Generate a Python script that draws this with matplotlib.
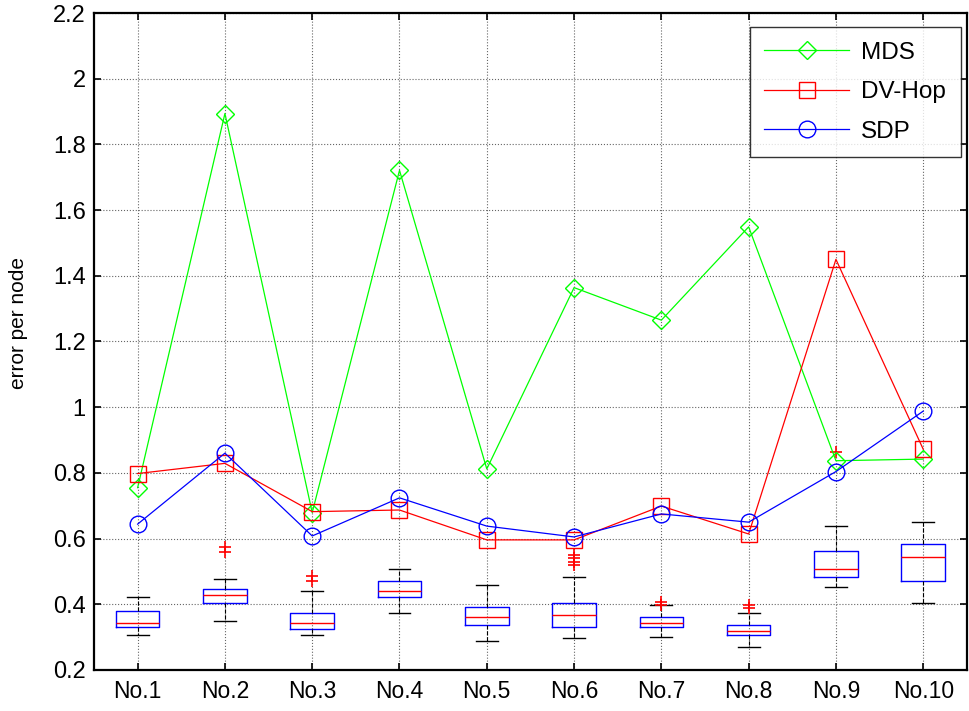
import matplotlib
matplotlib.use("Agg")
import matplotlib.pyplot as plt

plt.rcParams['font.family'] = ['Liberation Sans', 'DejaVu Sans']

categories = ['No.1', 'No.2', 'No.3', 'No.4', 'No.5', 'No.6', 'No.7', 'No.8', 'No.9', 'No.10']

mds = [0.755, 1.894, 0.679, 1.721, 0.812, 1.364, 1.265, 1.549, 0.837, 0.842]
dvhop = [0.798, 0.829, 0.682, 0.687, 0.596, 0.596, 0.699, 0.614, 1.450, 0.872]
sdp = [0.644, 0.860, 0.608, 0.724, 0.638, 0.605, 0.675, 0.650, 0.804, 0.988]

box_whislo = [0.306, 0.349, 0.306, 0.373, 0.287, 0.298, 0.300, 0.269, 0.453, 0.404]
box_q1 = [0.330, 0.404, 0.324, 0.421, 0.336, 0.330, 0.331, 0.306, 0.484, 0.472]
box_med = [0.343, 0.429, 0.343, 0.441, 0.361, 0.366, 0.342, 0.319, 0.508, 0.545]
box_q3 = [0.380, 0.447, 0.373, 0.472, 0.391, 0.404, 0.360, 0.336, 0.563, 0.583]
box_whishi = [0.423, 0.477, 0.440, 0.507, 0.460, 0.484, 0.398, 0.372, 0.637, 0.650]
box_fliers = [[], [0.575, 0.560], [0.485, 0.472], [], [], [0.550, 0.541, 0.530, 0.520],
              [0.408, 0.398], [0.398, 0.390], [0.864], []]

yticks = [0.2, 0.4, 0.6, 0.8, 1.0, 1.2, 1.4, 1.6, 1.8, 2.0, 2.2]
ytick_labels = ['0.2', '0.4', '0.6', '0.8', '1', '1.2', '1.4', '1.6', '1.8', '2', '2.2']

fig = plt.figure(figsize=(9.69, 7.11), dpi=100)
ax = fig.add_axes([0.097, 0.0577, 0.9008, 0.924])

positions = list(range(1, len(categories) + 1))

stats = []
for i in range(len(categories)):
    stats.append(dict(med=box_med[i], q1=box_q1[i], q3=box_q3[i],
                      whislo=box_whislo[i], whishi=box_whishi[i],
                      fliers=box_fliers[i]))

ax.bxp(stats, positions=positions, widths=0.5, showfliers=True,
       boxprops=dict(color='#0000FF', linewidth=1.0),
       medianprops=dict(color='#FF0000', linewidth=1.0),
       whiskerprops=dict(color='black', linewidth=0.8, linestyle='--'),
       capprops=dict(color='black', linewidth=1.0),
       capwidths=0.25,
       flierprops=dict(marker='+', markeredgecolor='#FF0000', markersize=9,
                       markeredgewidth=1.2, linestyle='none'),
       manage_ticks=False)

lw = 0.9
ax.plot(positions, mds, color='#00FF00', lw=lw, marker='D', ms=9.5,
        mfc='none', mec='#00FF00', mew=1.0, label='MDS', zorder=5)
ax.plot(positions, dvhop, color='#FF0000', lw=lw, marker='s', ms=12,
        mfc='none', mec='#FF0000', mew=1.0, label='DV-Hop', zorder=5)
ax.plot(positions, sdp, color='#0000FF', lw=lw, marker='o', ms=12,
        mfc='none', mec='#0000FF', mew=1.0, label='SDP', zorder=5)

ax.set_xlim(0.5, len(categories) + 0.5)
ax.set_ylim(0.2, 2.2)
ax.set_xticks(positions)
ax.set_xticklabels(categories, fontsize=16.5)
ax.set_yticks(yticks)
ax.set_yticklabels(ytick_labels, fontsize=17)
ax.set_ylabel('error per node', fontsize=15)
ax.yaxis.set_label_coords(-0.0756, 0.528)

ax.grid(True, color='#666666', linestyle=':', linewidth=0.8)
ax.set_axisbelow(True)
ax.tick_params(direction='in', length=5, width=1.2, top=True, right=True)
ax.tick_params(axis='y', pad=6)
ax.tick_params(axis='x', pad=7)
for s in ax.spines.values():
    s.set_linewidth(1.6)

leg = ax.legend(loc='upper right', fontsize=17.5, frameon=True, fancybox=False,
                edgecolor='black', handlelength=3.5, handletextpad=0.5,
                borderpad=0.6, labelspacing=0.72, borderaxespad=0,
                bbox_to_anchor=(0.9931, 0.9787))
leg.get_frame().set_linewidth(1.0)

fig.savefig('out.png', dpi=100)
